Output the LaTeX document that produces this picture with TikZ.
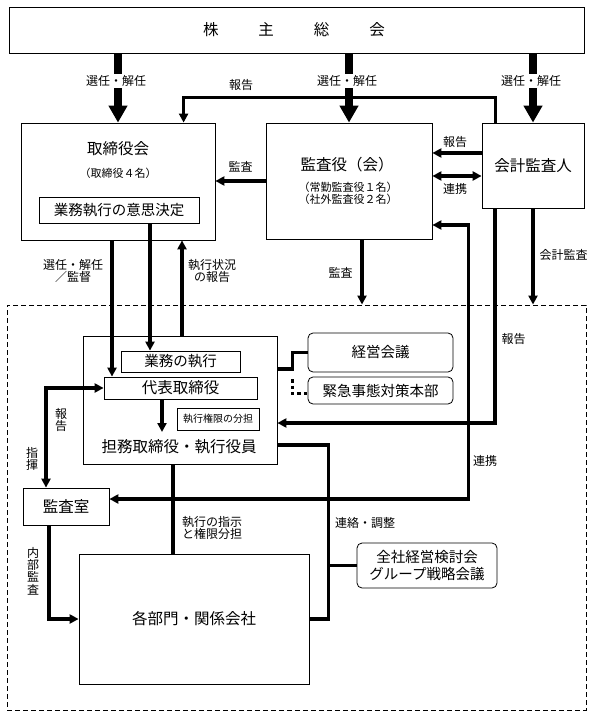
\documentclass[tikz,border=0pt]{standalone}
\usepackage{fontspec}
\setmainfont{Noto Sans CJK JP}
\usetikzlibrary{arrows.meta}

\begin{document}
\begin{tikzpicture}[x=1pt,y=-1pt,
		box/.style={draw,line width=0.8pt,inner sep=0pt},
		rbox/.style={box,rounded corners=5pt},
		big/.style={font=\fontsize{15.5}{17}\selectfont},
		mid/.style={font=\fontsize{14.5}{17}\selectfont},
		sml/.style={font=\fontsize{11}{11.5}\selectfont},
		lbl/.style={font=\fontsize{12}{12.4}\selectfont,inner sep=1pt,align=center},
		conn/.style={line width=3.5pt},
		arr/.style={-{Triangle[length=9pt,width=9pt]}},
		darr/.style={{Triangle[length=9pt,width=9pt]}-{Triangle[length=9pt,width=9pt]}},
		bigarr/.style={line width=8pt,-{Triangle[length=17pt,width=18pt]}},
		dotconn/.style={line width=3.5pt,dash pattern=on 3.5pt off 3pt}]
		
		\useasboundingbox (0,0) rectangle (597,719);
		
		% Draw the boxes
		\node[box,minimum width=575pt,minimum height=46pt] (gm) at (296.5,30) {};
		\node[big] (gm-t) at (294,30) {株\hspace{40pt}主\hspace{40pt}総\hspace{40pt}会};
		
		\node[box,minimum width=194pt,minimum height=117pt] (board) at (118,181.5) {};
		\node[big] (board-t) at (118,149) {取締役会};
		\node[sml] (board-n) at (118,173) {（取締役４名）};
		\node[box,mid,minimum width=160pt,minimum height=26pt] (decide) at (119,210) {業務執行の意思決定};
		
		\node[box,minimum width=166pt,minimum height=116pt] (kansa) at (349,181) {};
		\node[big] (kansa-t) at (347,165) {監査役（会）};
		\node[sml,align=center] (kansa-n) at (348,193.5) {（常勤監査役１名）\\（社外監査役２名）};
		
		\node[box,big,minimum width=102pt,minimum height=85pt] (auditor) at (533,165.5) {会計監査人};
		
		\node[draw,line width=0.9pt,dash pattern=on 5pt off 3pt,inner sep=0pt,minimum width=579pt,minimum height=405pt] (grp) at (296.5,507.5) {};
		
		\node[box,minimum width=194pt,minimum height=128pt] (exec) at (180,400) {};
		\node[box,mid,minimum width=119pt,minimum height=21pt] (gyomu) at (180.5,361.5) {業務の執行};
		\node[box,big,minimum width=153pt,minimum height=22pt] (rep) at (180.5,388) {代表取締役};
		\node[box,font=\fontsize{10}{11}\selectfont,minimum width=82pt,minimum height=22pt] (share) at (218,419) {執行権限の分担};
		\node[big] (exec-t) at (179,447) {担務取締役・執行役員};
		
		\node[rbox,mid,minimum width=145pt,minimum height=39pt] (keiei) at (380.5,352.5) {経営会議};
		\node[rbox,mid,minimum width=145pt,minimum height=27pt] (kinkyu) at (380.5,390.5) {緊急事態対策本部};
		
		\node[box,big,minimum width=86pt,minimum height=37pt] (audroom) at (66,506.5) {監査室};
		\node[box,big,minimum width=230pt,minimum height=130pt] (depts) at (194,619) {各部門・関係会社};
		\node[rbox,mid,align=center,minimum width=140pt,minimum height=45pt] (zensha) at (427,565.5) {全社経営検討会\\グループ戦略会議};
		
		% Draw the arrows from the general meeting
		\draw[bigarr] (gm.south -| board.north) -- (board.north);
		\draw[bigarr] (gm.south -| kansa.north) -- (kansa.north);
		\draw[bigarr] (gm.south -| auditor.north) -- (auditor.north);
		
		% Draw the connectors
		\draw[conn,arr] ([xshift=14pt]auditor.north west) -- ++(0,-25) -| ([xshift=163pt]board.north west);
		\draw[conn,arr] (kansa.west) -- (kansa.west -| board.east);
		\draw[conn,arr] ([yshift=12.5pt]auditor.west) -- ([yshift=12.5pt]auditor.west -| kansa.east);
		\draw[conn,darr] ([yshift=-10.5pt]auditor.west) -- ([yshift=-10.5pt]auditor.west -| kansa.east);
		\draw[conn,arr] ([xshift=13pt]kansa.south) -- ([xshift=13pt]kansa.south |- grp.north);
		\draw[conn,arr] (auditor.south) -- (auditor.south |- grp.north);
		\draw[conn,arr] ([xshift=-38pt]auditor.south) |- ([yshift=-23pt]exec.east);
		\draw[conn,darr] ([yshift=-44pt]kansa.east) -- ++(36,0) |- ([yshift=7.5pt]audroom.east);
		
		\draw[conn,arr] ([xshift=-6pt]board.south) -- ([xshift=-6pt]board.south |- rep.north);
		\draw[conn,arr] ([xshift=31pt]decide.south) -- ([xshift=31pt]decide.south |- gyomu.north);
		\draw[conn,arr] ([xshift=2pt]exec.north) -- ([xshift=2pt]exec.north |- board.south);
		\coordinate (rep-end) at (162,432);
		\draw[conn,arr] (rep.south -| rep-end) -- (rep-end);
		
		\draw[conn] ([yshift=31pt]exec.east) -- ++(15,0) coordinate (kk) |- (keiei.west);
		\draw[dotconn] (kk) ++(0,10) |- ([yshift=-3pt]kinkyu.west);
		\draw[conn] ([yshift=-45pt]exec.east) -- ++(51,0) coordinate (cc) |- (depts.east);
		\draw[conn] (zensha.west) -- (zensha.west -| cc);
		\draw[conn] ([xshift=-7pt]exec.south) -- ([xshift=-7pt]exec.south |- depts.north);
		
		\draw[conn,darr] (rep.west) -| ([xshift=-20pt]audroom.north);
		\draw[conn,arr] ([xshift=-17pt]audroom.south) |- (depts.west);
		
		% Add labels
		\node[lbl,fill=white] (l-sel1) at (116,81) {選任・解任};
		\node[lbl,fill=white] (l-sel2) at (347,81) {選任・解任};
		\node[lbl,fill=white] (l-sel3) at (531,81) {選任・解任};
		\node[lbl] (l-rep1) at (241,85) {報告};
		\node[lbl] (l-aud1) at (240.5,167) {監査};
		\node[lbl] (l-rep2) at (455,142) {報告};
		\node[lbl] (l-coop1) at (455,189) {連携};
		\node[lbl] (l-aud2) at (340.5,273) {監査};
		\node[lbl] (l-acc) at (563.5,255) {会計監査};
		\node[lbl] (l-rep3) at (513.5,339) {報告};
		\node[lbl] (l-coop2) at (485,461) {連携};
		\node[lbl] (l-sel4) at (73,271) {選任・解任\\／監督};
		\node[lbl] (l-stat) at (212,271) {執行状況\\の報告};
		\node[lbl] (l-inst) at (212,528) {執行の指示\\と権限分担};
		\node[lbl] (l-coord) at (365,523) {連絡・調整};
		\node[lbl] (l-rep4) at (61,420) {報\\告};
		\node[lbl] (l-dir) at (32,459) {指\\揮};
		\node[lbl] (l-int) at (33,571) {内\\部\\監\\査};
	\end{tikzpicture}
\end{document}
